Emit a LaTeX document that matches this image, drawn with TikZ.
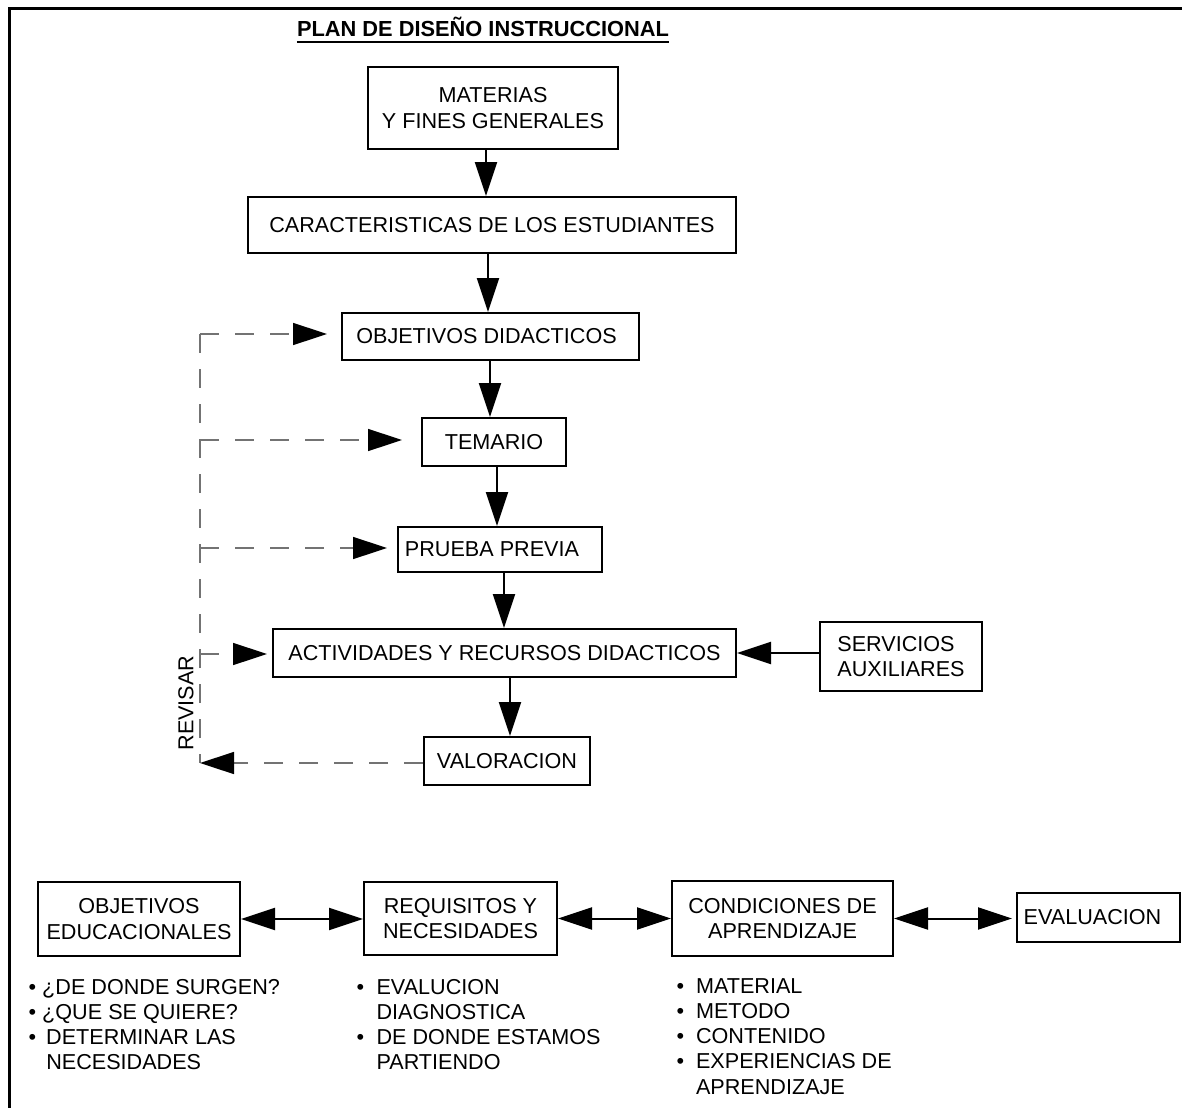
\documentclass[tikz,border=0pt]{standalone}
\usepackage{fontspec}
\setmainfont{Liberation Sans}
\usetikzlibrary{arrows.meta}
\definecolor{dashgray}{gray}{0.45}
\begin{document}
\begin{tikzpicture}[x=1pt,y=-1pt,
  every node/.style={font=\fontsize{21.6}{25.3}\selectfont},
  box/.style={draw, line width=2pt, inner sep=0pt, align=center},
  tipA/.tip={Triangle[length=34pt,width=22pt]},
  arr/.style={line width=2pt, -tipA},
  dbl/.style={line width=2pt, tipA-tipA},
  fbline/.style={draw=dashgray, line width=1.5pt, dash pattern=on 19pt off 16pt},
  fb/.style={fbline, -{Triangle[length=34pt,width=22pt,color=black]}},
  list/.style={anchor=base west, inner sep=0pt},
]
\useasboundingbox (0,0) rectangle (1182,1108);

% page frame
\draw[line width=3pt] (1182,9) -- (9,9) -- (9,1108);

% title
\node[font=\fontsize{21.8}{25}\selectfont\bfseries, inner sep=0pt, anchor=base] (title) at (483,37) {PLAN DE DISEÑO INSTRUCCIONAL};
\draw[line width=2pt] ([yshift=-5pt]title.base west) -- ([yshift=-5pt]title.base east);

% main sequence
\node[box, minimum width=250pt, minimum height=82pt] (mat) at (493,108) {MATERIAS\\Y FINES GENERALES};
\node[box, minimum width=488pt, minimum height=56pt] (car) at (492,225) {CARACTERISTICAS DE LOS ESTUDIANTES};
\node[box, minimum width=297pt, minimum height=47pt] (obj) at (490.5,336.5) {OBJETIVOS DIDACTICOS\hspace{8pt}};
\node[box, minimum width=144pt, minimum height=48pt] (tem) at (494,442) {TEMARIO};
\node[box, minimum width=204pt, minimum height=45pt] (pru) at (500,549.5) {PRUEBA PREVIA\hspace{16pt}};
\node[box, minimum width=463pt, minimum height=48pt] (act) at (504.5,653) {ACTIVIDADES Y RECURSOS DIDACTICOS};
\node[box, minimum width=162pt, minimum height=69pt, align=left] (srv) at (901,656.5) {SERVICIOS\\AUXILIARES};
\node[box, minimum width=166pt, minimum height=48pt] (val) at (507,761) {VALORACION};

\draw[arr] (486,0 |- mat.south) -- (486,0 |- car.north);
\draw[arr] (488,0 |- car.south) -- (488,0 |- obj.north);
\draw[arr] (490,0 |- obj.south) -- (490,0 |- tem.north);
\draw[arr] (497,0 |- tem.south) -- (497,0 |- pru.north);
\draw[arr] (504,0 |- pru.south) -- (504,0 |- act.north);
\draw[arr] (510,0 |- act.south) -- (510,0 |- val.north);
\draw[arr] (srv.west |- act.east) -- (act.east);

% revision loop
\coordinate (r1) at (200,334);
\coordinate (r2) at (200,440);
\coordinate (r3) at (200,548);
\coordinate (r4) at (200,654);
\coordinate (r5) at (200,763);
\draw[fbline] (r1) -- (r5);
\draw[fb, shorten >=14pt] (r1) -- (r1 -| obj.west);
\draw[fb, shorten >=19pt] (r2) -- (r2 -| tem.west);
\draw[fb, shorten >=10pt] (r3) -- (r3 -| pru.west);
\draw[fb, shorten >=5pt] (r4) -- (r4 -| act.west);
\draw[fb] (val.west |- r5) -- (r5);
\node[rotate=90, inner sep=0pt] (rev) at (186,703) {REVISAR};

% lower row
\node[box, minimum width=202pt, minimum height=74pt] (oe) at (139,919) {OBJETIVOS\\EDUCACIONALES};
\node[box, minimum width=193pt, minimum height=73pt] (rq) at (460.5,918.5) {REQUISITOS Y\\NECESIDADES};
\node[box, minimum width=221pt, minimum height=75pt] (cd) at (782.5,918.5) {CONDICIONES DE\\APRENDIZAJE};
\node[box, minimum width=163pt, minimum height=49pt] (ev) at (1098.5,917.5) {EVALUACION\hspace{12pt}};

\draw[dbl] (oe.east) -- (oe.east -| rq.west);
\draw[dbl] (rq.east) -- (rq.east -| cd.west);
\draw[dbl, shorten >=4pt] (cd.east) -- (cd.east -| ev.west);

% notes below the boxes
\node[list] (n1) at (28.5,994) {\begin{tabular}[t]{@{}l@{\hspace{6pt}}l@{}}
•&¿DE DONDE SURGEN?\\
•&¿QUE SE QUIERE?\\
•&\hspace{4pt}DETERMINAR LAS\\
&\hspace{4pt}NECESIDADES
\end{tabular}};
\node[list] (n2) at (356.3,994) {\begin{tabular}[t]{@{}l@{\hspace{12.5pt}}l@{}}
•&EVALUCION\\
&DIAGNOSTICA\\
•&DE DONDE ESTAMOS\\
&PARTIENDO
\end{tabular}};
\node[list] (n3) at (676.3,993) {\begin{tabular}[t]{@{}l@{\hspace{12pt}}l@{}}
•&MATERIAL\\
•&METODO\\
•&CONTENIDO\\
•&EXPERIENCIAS DE\\
&APRENDIZAJE
\end{tabular}};
\end{tikzpicture}
\end{document}
